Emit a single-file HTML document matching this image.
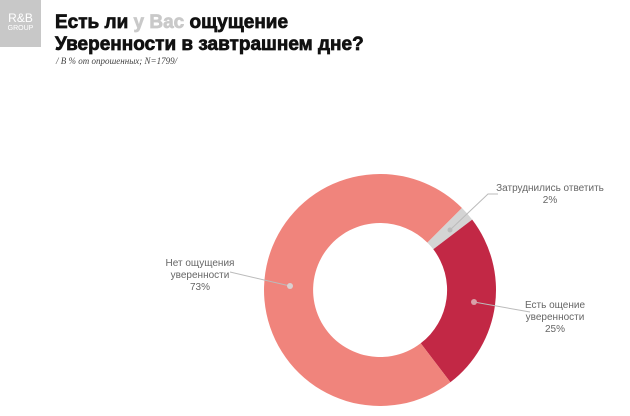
<!DOCTYPE html>
<html><head><meta charset="utf-8"><style>
body{margin:0;width:630px;height:416px;background:#fff;overflow:hidden;position:relative;font-family:"Liberation Sans",sans-serif}
.logo{position:absolute;left:0;top:0;width:41px;height:47px;background:#c8c8c8;color:#fff;text-align:center}
.title{position:absolute;left:55px;top:12px;font-size:19px;font-weight:bold;line-height:22px;color:#111;letter-spacing:0px;-webkit-text-stroke:0.7px #111}
.title span{-webkit-text-stroke:0.7px #c9c9c9}
.sub{position:absolute;left:56px;top:56px;font:italic 9px "Liberation Serif",serif;color:#444}
.lbl{position:absolute;font-size:10px;color:#666;text-align:center;line-height:12px}
</style></head><body>
<div class="logo"><div style="font-size:12px;padding-top:13px;line-height:11px">R&amp;B</div><div style="font-size:7px;line-height:9px">GROUP</div></div>
<div class="title">Есть ли <span style="color:#c9c9c9">у Вас</span> ощущение<br>Уверенности в завтрашнем дне?</div>
<div class="sub">/ В % от опрошенных; N=1799/</div>
<svg width="630" height="416" style="position:absolute;left:0;top:0">
<g transform="translate(380,290)">
<path d="M0,-116 A116,116 0 0 1 82,-82 L47.4,-47.4 A67,67 0 0 0 0,-67 Z" fill="#f0847c"/>
<path d="M82,-82 A116,116 0 0 1 92.2,-70.4 L53.3,-40.7 A67,67 0 0 0 47.4,-47.4 Z" fill="#d4d4d4"/>
<path d="M92.2,-70.4 A116,116 0 0 1 70.4,92.2 L40.7,53.3 A67,67 0 0 0 53.3,-40.7 Z" fill="#c22845"/>
<path d="M70.4,92.2 A116,116 0 1 1 0,-116 L0,-67 A67,67 0 1 0 40.7,53.3 Z" fill="#f0847c"/>
</g>
<g stroke="#bbb" stroke-width="1" fill="none">
<polyline points="450,230 488,194 498,194"/>
<polyline points="474,302 530,312"/>
<polyline points="290,286 230,272"/>
</g>
<circle cx="450" cy="230" r="2.5" fill="#bbb"/>
<circle cx="474" cy="302" r="3" fill="#d9a0a8"/>
<circle cx="290" cy="286" r="3" fill="#d9d0d0"/>
</svg>
<div class="lbl" style="left:490px;top:183px;width:120px">Затруднились ответить<br>2%</div>
<div class="lbl" style="left:505px;top:300px;width:100px">Есть ощение<br>уверенности<br>25%</div>
<div class="lbl" style="left:150px;top:258px;width:100px">Нет ощущения<br>уверенности<br>73%</div>
</body></html>
